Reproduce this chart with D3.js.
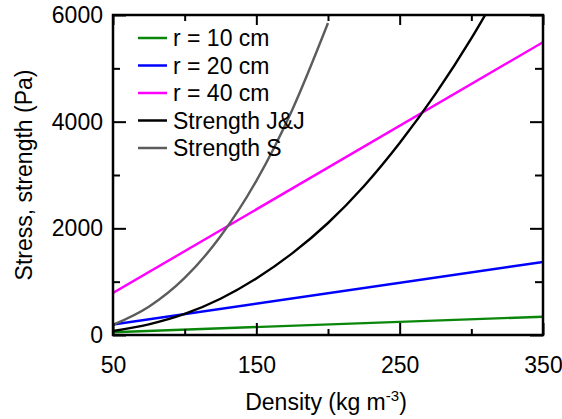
<!DOCTYPE html>
<html>
<head>
<meta charset="utf-8">
<script src="https://cdn.jsdelivr.net/npm/d3@7"></script>
<style>
  body { margin: 0; background: #fff; }
  text { font-family: "Liberation Sans", Arial, sans-serif; font-size: 23px; fill: #000; }
</style>
</head>
<body>
<script>
//values
var lineDensity = [50, 350];            //stress lines are straight
var stress10 = [52, 343];
var stress20 = [196, 1370];
var stress40 = [788, 5490];
var jjDensity = [50, 75, 100, 125, 150, 175, 200, 225, 250, 275, 300, 315];
var jjStrength = [75, 200, 395, 680, 1060, 1530, 2100, 2790, 3600, 4520, 5560, 6250];
var sDensity = [50, 75, 100, 125, 150, 175, 200];
var sStrength = [190, 530, 1070, 1850, 2890, 4220, 5850];
var xTicks = [50, 150, 250, 350];
var xMinor = [100, 200, 300];
var yTicks = [0, 2000, 4000, 6000];
var yMinor = [1000, 3000, 5000];
var legendNames = ["r = 10 cm", "r = 20 cm", "r = 40 cm", "Strength J&J", "Strength S"];
var colors = ["#0a870a", "#0000ff", "#ff00ff", "#000000", "#5c5c5c"];

var width = 562, height = 419;
//plot frame edges (window.top is reserved, so prefixed names)
var pLeft = 113, pRight = 543, pTop = 15, pBottom = 335;

var svg = d3.select("body").append("svg")
    .attr("width", width)
    .attr("height", height);

var x = d3.scaleLinear().domain([50, 350]).range([pLeft, pRight]);
var y = d3.scaleLinear().domain([0, 6000]).range([pBottom, pTop]);

//clip to the frame
svg.append("clipPath").attr("id", "plot")
  .append("rect")
    .attr("x", pLeft).attr("y", pTop)
    .attr("width", pRight - pLeft).attr("height", pBottom - pTop);

var series = [
    {xs: lineDensity, ys: stress10},
    {xs: lineDensity, ys: stress20},
    {xs: lineDensity, ys: stress40},
    {xs: jjDensity, ys: jjStrength},
    {xs: sDensity, ys: sStrength}
];

var line = d3.line()
    .x(function(d){ return x(d[0]); })
    .y(function(d){ return y(d[1]); })
    .curve(d3.curveMonotoneX);

var g = svg.append("g").attr("clip-path", "url(#plot)");
series.forEach(function(s, i){
    var pts = s.xs.map(function(v, j){ return [v, s.ys[j]]; });
    g.append("path")
        .datum(pts)
        .attr("fill", "none")
        .attr("stroke", colors[i])
        .attr("stroke-width", 2.4)
        .attr("d", line);
});

//axes: ticks pointing inward on all four sides
function addAxis(axis, tr){
    var a = svg.append("g").attr("transform", tr).call(axis);
    a.select(".domain").remove();
    a.selectAll("line").attr("stroke", "#000").attr("stroke-width", 2);
    a.selectAll("text").attr("font-family", null).attr("font-size", null);
    return a;
}
addAxis(d3.axisBottom(x).tickValues(xTicks).tickSize(-12).tickPadding(22).tickFormat(d3.format("d")),
    "translate(0," + pBottom + ")");
addAxis(d3.axisBottom(x).tickValues(xMinor).tickSize(-6).tickFormat(""), "translate(0," + pBottom + ")");
addAxis(d3.axisTop(x).tickValues(xTicks).tickSize(-10).tickFormat(""), "translate(0," + pTop + ")");
addAxis(d3.axisTop(x).tickValues(xMinor).tickSize(-6).tickFormat(""), "translate(0," + pTop + ")");

addAxis(d3.axisLeft(y).tickValues(yTicks).tickSize(-13).tickPadding(10).tickFormat(d3.format("d")),
    "translate(" + pLeft + ",0)");
addAxis(d3.axisLeft(y).tickValues(yMinor).tickSize(-7).tickFormat(""), "translate(" + pLeft + ",0)");
addAxis(d3.axisRight(y).tickValues(yTicks).tickSize(-13).tickFormat(""), "translate(" + pRight + ",0)");
addAxis(d3.axisRight(y).tickValues(yMinor).tickSize(-8).tickFormat(""), "translate(" + pRight + ",0)");

//frame
svg.append("rect")
    .attr("x", pLeft).attr("y", pTop)
    .attr("width", pRight - pLeft).attr("height", pBottom - pTop)
    .attr("fill", "none")
    .attr("stroke", "#000")
    .attr("stroke-width", 2.5);

//axis titles
var xt = svg.append("text")
    .attr("x", (pLeft + pRight) / 2 - 2)
    .attr("y", 410)
    .attr("text-anchor", "middle");
xt.append("tspan").text("Density (kg m");
xt.append("tspan").attr("dy", -9).style("font-size", "15px").text("-3");
xt.append("tspan").attr("dy", 9).text(")");

svg.append("text")
    .attr("transform", "translate(32," + ((pTop + pBottom) / 2) + ") rotate(-90)")
    .attr("text-anchor", "middle")
    .text("Stress, strength (Pa)");

//legend
var leg = svg.selectAll(".legend")
    .data(legendNames)
    .enter()
    .append("g")
    .attr("class", "legend")
    .attr("transform", function(d, i){ return "translate(0," + (38 + i * 27.5) + ")"; });
leg.append("line")
    .attr("x1", 138).attr("x2", 167)
    .attr("y1", 0).attr("y2", 0)
    .attr("stroke", function(d, i){ return colors[i]; })
    .attr("stroke-width", 2.5);
leg.append("text")
    .attr("x", 173)
    .attr("y", 8)
    .text(function(d){ return d; });
</script>
</body>
</html>
